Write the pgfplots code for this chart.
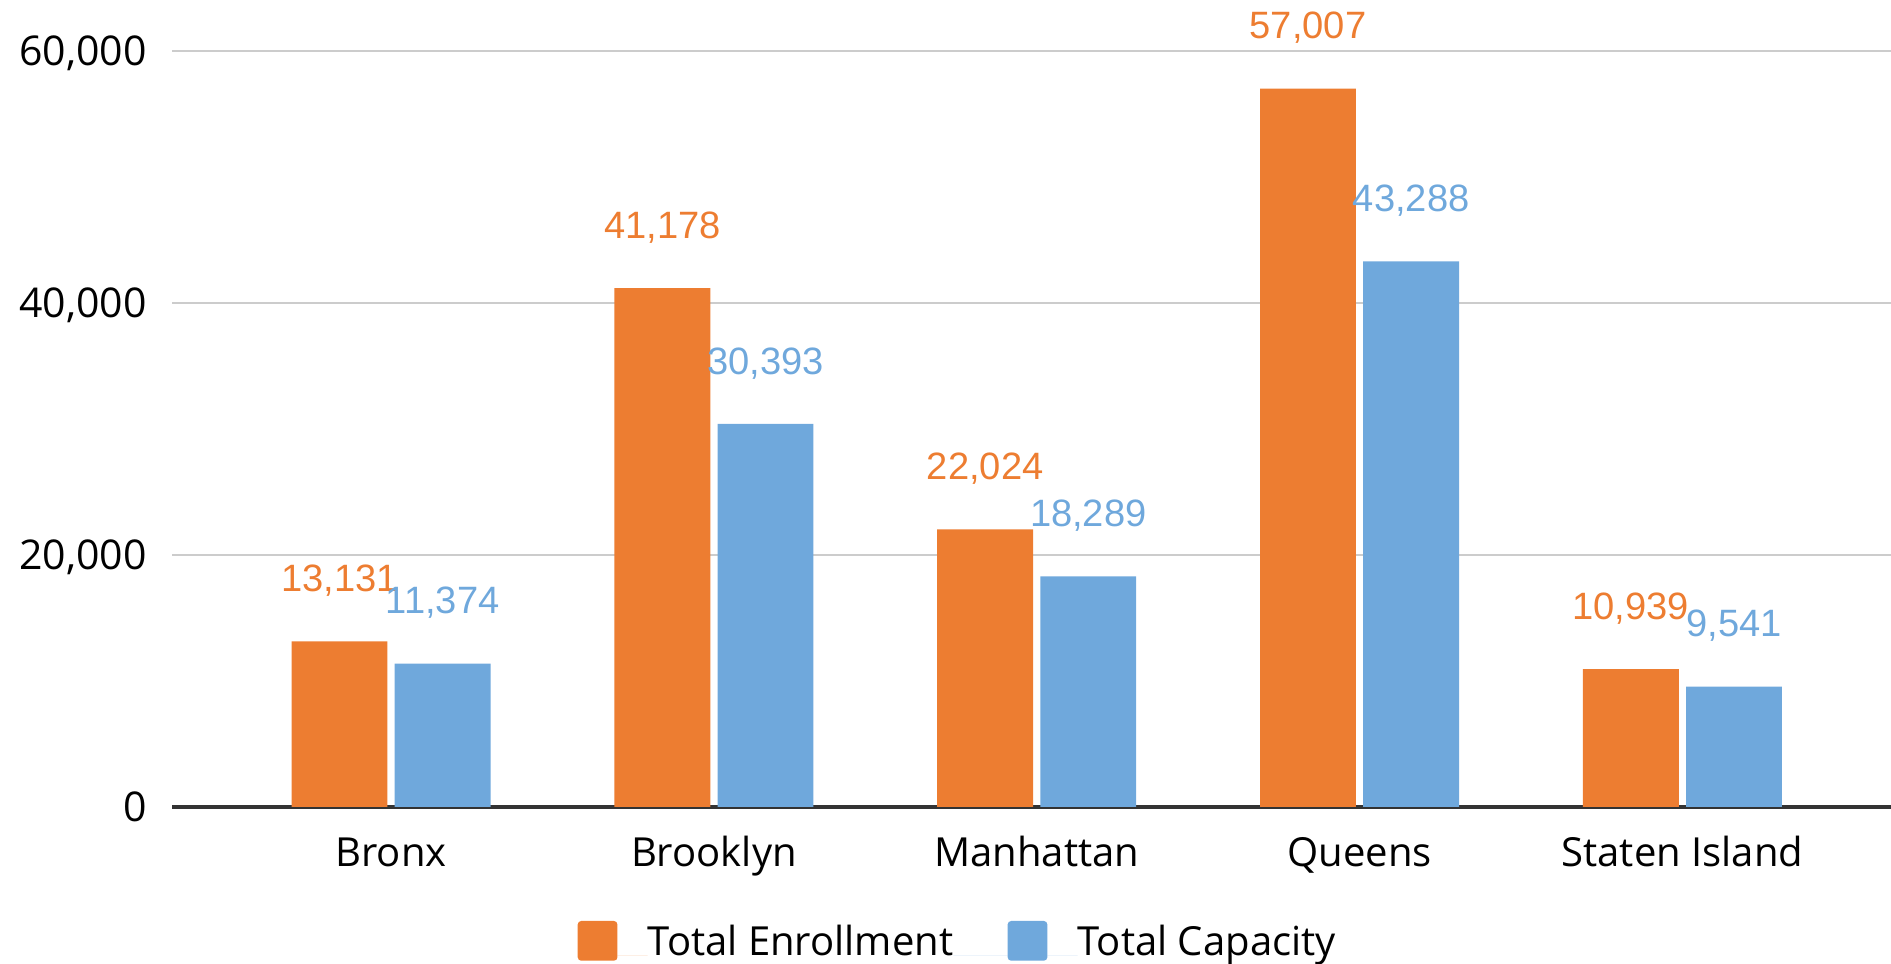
\documentclass[border=0pt]{standalone}
\usepackage{fontspec}
\setmainfont{Open Sans}
\newfontfamily\labfont{Liberation Sans}
\usepackage{pgfplots}
\pgfplotsset{compat=1.18}
\definecolor{ora}{HTML}{ED7D31}
\definecolor{blu}{HTML}{6FA8DC}
\definecolor{grd}{HTML}{CCCCCC}
\definecolor{axc}{HTML}{333333}
\begin{document}
\begin{tikzpicture}
\useasboundingbox (-71.5pt,-65pt) rectangle (712.5pt,334.5pt);
\begin{axis}[
  at={(0,0)}, anchor=south west,
  width=712.5pt, height=313.4pt, scale only axis,
  xmin=-0.677, xmax=4.646, ymin=0, ymax=60000,
  enlargelimits=false, clip=false,
  ybar=3pt, bar width=39.75pt,
  xtick={0,1,2,3,4},
  xticklabels={Bronx,Brooklyn,Manhattan,Queens,Staten Island},
  ytick={0,20000,40000,60000},
  scaled y ticks=false,
  major tick length=0pt,
  tick style={draw=none},
  axis x line*=bottom, axis y line*=left,
  y axis line style={draw=none},
  x axis line style={draw=axc, line width=1.5pt},
  ymajorgrids, grid style={draw=grd, line width=1pt},
  /pgf/number format/.cd, 1000 sep={,}, fixed, assume math mode=true, /pgfplots/.cd,
  yticklabel style={font=\fontsize{17}{20}\selectfont, anchor=base east, inner sep=0pt, xshift=-10.5pt, yshift=-6.1pt},
  xticklabel style={font=\fontsize{16.6}{20}\selectfont, anchor=base, inner sep=0pt, yshift=-24.9pt},
  nodes near coords={\pgfmathprintnumber{\pgfplotspointmeta}},
  every node near coord/.append style={font=\labfont\fontsize{15.8}{18}\selectfont, anchor=base, inner sep=0pt, yshift=20.6pt},
  legend style={at={(0.2358,-0.1773)}, anchor=west, draw=none, fill=none, inner sep=0pt, outer sep=0pt,
    font=\fontsize{16.6}{20}\selectfont, nodes={inner sep=0pt}, cells={anchor=base west}, /tikz/column sep=0pt},
  legend columns=2,
]
\addplot[fill=ora, draw=none, every node near coord/.append style={text=ora},
  legend image code/.code={\fill[ora, rounded corners=1.5pt] (0pt,-2.3pt) rectangle (16.5pt,14.2pt); \path (16.5pt,0pt) -- (29pt,0pt);}]
  coordinates {(0,13131) (1,41178) (2,22024) (3,57007) (4,10939)};
\addlegendentry{Total Enrollment}
\addplot[fill=blu, draw=none, every node near coord/.append style={text=blu},
  legend image code/.code={\path (-22.5pt,0pt) -- (0pt,0pt); \fill[blu, rounded corners=1.5pt] (0pt,-2.3pt) rectangle (16.5pt,14.2pt); \path (16.5pt,0pt) -- (29pt,0pt);}]
  coordinates {(0,11374) (1,30393) (2,18289) (3,43288) (4,9541)};
\addlegendentry{Total Capacity}
\end{axis}
\end{tikzpicture}
\end{document}
